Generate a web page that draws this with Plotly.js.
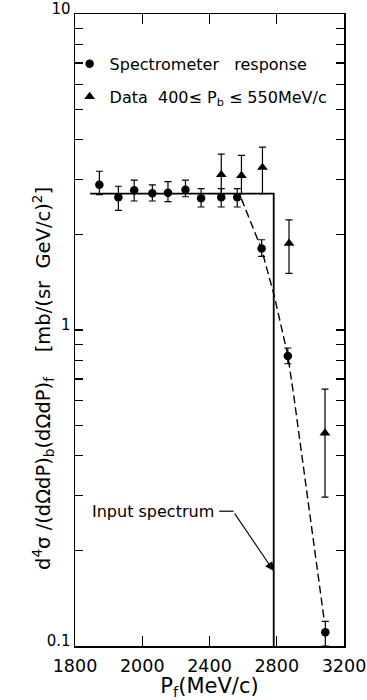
<!DOCTYPE html>
<html>
<head>
<meta charset="utf-8">
<script src="https://cdn.plot.ly/plotly-3.0.1.min.js"></script>
<style>html,body{margin:0;padding:0;background:#fff;}#chart{width:367px;height:700px;}</style>
</head>
<body>
<div id="chart"></div>
<script>
// Spectrometer response (circles)
const respP   = [1745, 1858, 1952, 2060, 2153, 2257, 2350, 2470, 2565, 2710, 2866, 3089];
const respV   = [2.88, 2.63, 2.77, 2.71, 2.72, 2.78, 2.61, 2.63, 2.63, 1.81, 0.827, 0.1105];
const respHi  = [3.18, 2.85, 2.98, 2.88, 2.95, 2.98, 2.80, 2.80, 2.80, 1.93, 0.877, 0.1197];
const respLo  = [2.68, 2.39, 2.56, 2.56, 2.55, 2.64, 2.45, 2.45, 2.45, 1.71, 0.782, 0.100];
// Data 400 <= Pb <= 550 MeV/c (triangles)
const dataP   = [2470, 2590, 2715, 2873, 3087];
const dataV   = [3.10, 3.08, 3.27, 1.88, 0.472];
const dataHi  = [3.60, 3.57, 3.79, 2.23, 0.65];
const dataLo  = [2.70, 2.70, 2.70, 1.51, 0.296];
// Input spectrum (step)
const stepP   = [1690, 2782, 2782];
const stepV   = [2.70, 2.70, 0.1];
// Smoothed spectrometer response (dashed)
const curveP  = [2590, 2710, 2784, 2866, 2903, 3082];
const curveV  = [2.60, 1.80, 1.29, 0.83, 0.61, 0.121];
// Axis ticks
const xTickVals = [1600, 2000, 2400, 2800, 3200];
const xTickText = ['1800', '2000', '2400', '2800', '3200'];
const yTickVals = [0.1,0.2,0.3,0.4,0.5,0.6,0.7,0.8,0.9,1,2,3,4,5,6,7,8,9,10];
const yTickText = yTickVals.map(v => v === 0.1 ? '0.1' : v === 1 ? '1' : v === 10 ? '10' : '');

const FONT = 'DejaVu Sans, sans-serif';
const arr = (a, b, s) => a.map((v, i) => s * (v - b[i]));

const traces = [
  {x: stepP, y: stepV, mode: 'lines', line: {color: '#000', width: 1.8}, showlegend: false, hoverinfo: 'skip'},
  {x: curveP, y: curveV, mode: 'lines', line: {color: '#000', width: 1.4, dash: '8px,4px'}, showlegend: false, hoverinfo: 'skip'},
  {x: respP, y: respV, mode: 'markers', name: 'Spectrometer\u00a0\u00a0\u00a0response', legendgroup: 'a',
   marker: {symbol: 'circle', size: 8.5, color: '#000'},
   error_y: {type: 'data', symmetric: false, array: arr(respHi, respV, 1), arrayminus: arr(respV, respLo, 1), color: '#000', thickness: 1.2, width: 3.5}},
  {x: dataP, y: dataV, mode: 'markers', name: 'Data\u00a0 400\u2264 P<sub>b</sub> \u2264 550MeV/c', legendgroup: 'b',
   marker: {symbol: 'triangle-up', size: 9.5, color: '#000'},
   error_y: {type: 'data', symmetric: false, array: arr(dataHi, dataV, 1), arrayminus: arr(dataV, dataLo, 1), color: '#000', thickness: 1.2, width: 3.5}}
];

const layout = {
  width: 367, height: 700,
  margin: {l: 75, r: 23, t: 14, b: 54},
  paper_bgcolor: '#fff', plot_bgcolor: '#fff',
  font: {family: FONT, color: '#000', size: 16},
  showlegend: true,
  legend: {x: -0.02, y: 0.948, xanchor: 'left', yanchor: 'top', bgcolor: 'rgba(0,0,0,0)',
           font: {family: FONT, size: 16, color: '#000'}, traceorder: 'grouped', tracegroupgap: 9, itemwidth: 30},
  xaxis: {range: [1600, 3200], tickmode: 'array', tickvals: xTickVals, ticktext: xTickText,
          ticks: 'inside', ticklen: 10, tickwidth: 1.3, tickcolor: '#000',
          showline: true, linecolor: '#000', linewidth: 1.5, mirror: 'ticks', showgrid: false, zeroline: false,
          tickfont: {family: FONT, size: 17.5}, ticklabelstandoff: 3,
          title: {text: 'P<sub>f</sub>(MeV/c)', font: {family: FONT, size: 21}, standoff: 11}},
  yaxis: {type: 'log', range: [-1, 1], tickmode: 'array', tickvals: yTickVals, ticktext: yTickText,
          ticks: 'inside', ticklen: 8, tickwidth: 1.2, tickcolor: '#000',
          showline: true, linecolor: '#000', linewidth: 1.5, mirror: 'ticks', showgrid: false, zeroline: false,
          tickfont: {family: FONT, size: 15}, ticklabelshift: -5},
  shapes: [
    {type: 'line', xref: 'x', yref: 'y', x0: 2458, x1: 2543, y0: 0.267, y1: 0.267, line: {color: '#000', width: 1.2}}
  ],
  annotations: [
    {xref: 'paper', yref: 'paper', x: (27 - 75) / 269, y: (646 - 379) / 632, textangle: -90, showarrow: false,
     text: 'd<sup>4</sup>\u03c3 /(d\u03a9dP)<sub>b</sub>(d\u03a9dP)<sub>f</sub>\u00a0\u00a0\u00a0\u00a0[mb/(sr\u00a0 GeV/c)<sup>2</sup>]',
     font: {family: FONT, size: 19.5, color: '#000'}},
    {xref: 'x', yref: 'y', x: 2440, y: Math.log10(0.267), text: 'Input spectrum', showarrow: false, xanchor: 'right',
     font: {family: FONT, size: 16, color: '#000'}},
    {xref: 'x', yref: 'y', x: 2782, y: Math.log10(0.1726), text: '', showarrow: true, arrowhead: 2, arrowsize: 1.6, arrowwidth: 1.1,
     arrowcolor: '#000', ax: -40, ay: -59, standoff: 0}
  ]
};

Plotly.newPlot('chart', traces, layout, {staticPlot: true, displayModeBar: false});
</script>
</body>
</html>
